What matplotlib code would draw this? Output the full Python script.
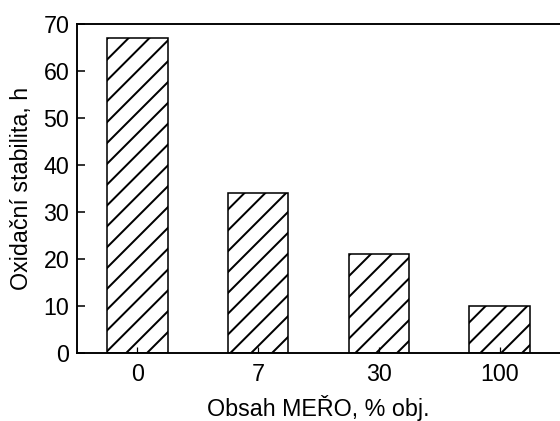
import matplotlib.pyplot as plt

# Oxidation stability vs. FAME content
categories = ["0", "7", "30", "100"]
stability = [67, 34, 21, 10]

plt.rcParams["font.family"] = ["Liberation Sans", "DejaVu Sans"]
plt.rcParams["hatch.linewidth"] = 1.15

# dpi 125 so the hatch spacing matches the original
fig = plt.figure(figsize=(4.48, 3.368), dpi=125)
ax = fig.add_axes([0.1375, 0.1615, 0.8625, 0.7815])

x = range(len(categories))
ax.bar(x, stability, width=0.5, color="white", edgecolor="black",
       linewidth=0.9, hatch="//")

ax.set_xlim(-0.5, 3.5)
ax.set_ylim(0, 70)
ax.set_yticks(range(0, 71, 10))
ax.set_xticks(list(x))
ax.set_xticklabels(categories)

ax.tick_params(axis="y", direction="in", length=4.6, width=0.9, labelsize=13.4, pad=4.5)
ax.tick_params(axis="x", direction="in", length=3.5, width=0.7, labelsize=13.4, pad=6)

ax.spines["right"].set_visible(False)
for s in ["left", "bottom", "top"]:
    ax.spines[s].set_linewidth(1.1)

ax.set_xlabel("Obsah MEŘO, % obj.", fontsize=13.4, labelpad=5)
ax.set_ylabel("Oxidační stabilita, h", fontsize=13.4, labelpad=6)

fig.savefig("out.png", dpi=125)
